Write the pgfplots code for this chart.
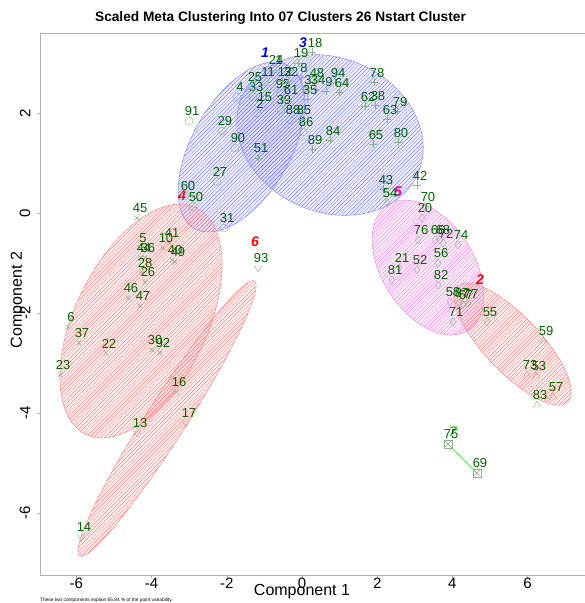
\documentclass[border=0pt]{standalone}
\usepackage{pgfplots}
\pgfplotsset{compat=1.18}
\usepackage{fontspec}
\setmainfont{Liberation Sans}
\usetikzlibrary{patterns}
\definecolor{dkgreen}{RGB}{0,100,0}
\definecolor{mkcol}{RGB}{140,175,140}
\definecolor{lgreen}{RGB}{40,215,40}
\pgfdeclarepatternformonly{hatch}{\pgfqpoint{-1pt}{-1pt}}{\pgfqpoint{4.8pt}{4.8pt}}{\pgfqpoint{3.8pt}{3.8pt}}{%
  \pgfsetlinewidth{0.45pt}%
  \pgfpathmoveto{\pgfqpoint{-0.1pt}{-0.1pt}}%
  \pgfpathlineto{\pgfqpoint{3.9pt}{3.9pt}}%
  \pgfusepath{stroke}}
\newcommand{\myell}[6]{%
  \fill[#6, fill opacity=0.05, rotate around={#5:(axis cs:#1,#2)}] (axis cs:#1,#2) ellipse [x radius=#3pt, y radius=#4pt];
  \draw[draw=#6!45, line width=0.5pt, pattern=hatch, pattern color=#6!50, rotate around={#5:(axis cs:#1,#2)}] (axis cs:#1,#2) ellipse [x radius=#3pt, y radius=#4pt];
}
\pgfplotsset{lbl/.style={only marks, mkcol, point meta=explicit symbolic, nodes near coords,
  nodes near coords style={font=\fontsize{13}{13}\selectfont, text=dkgreen, anchor=center, inner sep=0pt, xshift=3pt, yshift=9.5pt}}}
\begin{document}
\begin{tikzpicture}
\begin{axis}[
  at={(40pt,28pt)}, anchor=south west,
  x=37.6pt, y=50pt,
  xmin=-6.968, xmax=7.7, ymin=-7.24, ymax=3.6,
  axis line style={gray!60, line width=0.6pt},
  xtick={-6,-4,...,6}, ytick={-6,-4,...,2},
  xtick pos=left, ytick pos=left,
  tick align=outside, major tick length=3pt,
  tick style={gray!60, line width=0.6pt},
  /pgf/number format/assume math mode=true,
  ticklabel style={font=\fontsize{15}{15}\selectfont},
  xticklabel style={anchor=north, inner sep=0pt},
  yticklabel style={rotate=90, anchor=south, inner sep=0pt},
  yticklabel shift=6.5pt,
  clip=false,
]
\myell{-1.609}{1.32}{94}{49}{60}{blue}
\myell{0.745}{1.56}{96}{77}{-23.5}{blue}
\myell{-4.282}{-2.16}{126}{66}{64}{red}
\myell{-3.59}{-4.11}{163}{20}{57.5}{red}
\myell{3.351}{-1.09}{74.5}{46}{-57.3}{magenta}
\myell{5.60}{-2.62}{80}{28}{-46.5}{red}

\addplot[lgreen, line width=0.6pt, no markers] table {
x y
3.883 -4.62
4.654 -5.20
};

% cluster 1
\addplot[lbl, mark=o, mark size=4pt] table[meta=lab] {
x y lab
-3.005 1.84 91
-2.128 1.64 29
-1.782 1.30 90
-2.261 0.63 27
-3.112 0.35 60
-2.899 0.13 50
-2.074 -0.30 31
-1.729 2.32 4
-1.303 2.33 33
-1.330 2.53 25
-1.064 2.12 15
-1.197 2.00 2
-0.771 2.87 24
-0.691 2.87 1
-0.984 2.63 11
-0.585 2.39 95
-0.559 2.06 39
-0.319 1.86 88
0.027 1.62 86
};
% cluster 3
\addplot[lbl, mark=+, mark size=4pt] table[meta=lab] {
x y lab
0.266 3.21 18
-0.106 3.00 19
-0.027 2.71 8
-0.532 2.63 12
-0.372 2.63 32
0.319 2.61 48
0.080 2.47 3
0.346 2.47 34
0.638 2.43 9
0.878 2.61 94
0.984 2.41 64
-0.372 2.27 61
0.133 2.27 35
-0.027 1.87 85
0.266 1.27 89
0.745 1.45 84
-1.170 1.10 51
1.915 2.61 78
1.676 2.13 62
1.941 2.15 38
2.527 2.03 79
2.261 1.87 63
1.888 1.37 65
2.553 1.41 80
3.059 0.55 42
2.154 0.47 43
};
% cluster 5
\addplot[lbl, mark=diamond, mark size=4pt] table[meta=lab] {
x y lab
2.261 0.20 54
3.271 0.13 70
3.191 -0.10 20
3.085 -0.54 76
3.537 -0.54 66
3.670 -0.54 68
3.750 -0.60 72
4.149 -0.64 74
3.617 -1.00 56
2.580 -1.09 21
3.059 -1.14 52
2.394 -1.34 81
3.617 -1.44 82
3.936 -1.78 58
4.176 -1.79 87
4.282 -1.83 67
4.415 -1.81 77
4.016 -2.18 71
4.920 -2.18 55
};
% cluster 2
\addplot[lbl, mark=triangle, mark size=4pt] table[meta=lab] {
x y lab
6.410 -2.56 59
5.984 -3.24 73
6.223 -3.26 53
6.676 -3.68 57
6.250 -3.84 83
};
% cluster 7
\addplot[only marks, mkcol, mark=x, mark size=4pt] table {
x y
3.883 -4.62
4.654 -5.20
};
\addplot[lbl, mark=square, mark size=4pt] table[meta=lab] {
x y lab
3.883 -4.62 75
4.654 -5.20 69
};
% cluster 4
\addplot[lbl, mark=x, mark size=3.5pt] table[meta=lab] {
x y lab
-4.388 -0.10 45
-4.309 -0.70 5
-4.282 -0.90 44
-4.176 -0.90 36
-3.537 -0.59 41
-3.697 -0.70 10
-3.457 -0.94 40
-3.378 -0.98 49
-4.255 -1.19 28
-4.176 -1.38 26
-4.628 -1.70 46
-4.309 -1.86 47
-6.223 -2.28 6
-5.931 -2.60 37
-5.213 -2.80 22
-6.436 -3.24 23
-3.989 -2.74 30
-3.777 -2.80 92
-3.351 -3.58 16
};
% cluster 6
\addplot[lbl, mark=triangle, mark size=4pt, mark options={rotate=180}] table[meta=lab] {
x y lab
-4.388 -4.40 13
-3.085 -4.20 17
-5.878 -6.48 14
-1.170 -1.10 93
};

\begin{scope}[every node/.style={font=\bfseries\itshape\fontsize{14}{14}\selectfont}]
\node[text=blue] at (axis cs:-0.984,3.20) {1};
\node[text=blue] at (axis cs:0.027,3.40) {3};
\node[text=red] at (axis cs:-3.19,0.34) {4};
\node[text=red] at (axis cs:-1.25,-0.58) {6};
\node[text=magenta] at (axis cs:2.553,0.42) {5};
\node[text=red] at (axis cs:4.734,-1.34) {2};
\node[text=lgreen] at (axis cs:4.016,-4.38) {7};
\end{scope}
\end{axis}
\node[font=\fontsize{16}{16}\selectfont] at (302pt,11pt) {Component 1};
\node[rotate=90, font=\fontsize{16}{16}\selectfont] at (18pt,303pt) {Component 2};
\node[font=\bfseries\fontsize{13.7}{14}\selectfont] at (280.5pt,585pt) {Scaled Meta Clustering Into 07 Clusters 26 Nstart Cluster};
\node[anchor=west, inner sep=0pt, font=\fontsize{4.8}{5}\selectfont] at (40pt,2.5pt) {These two components explain 65.84 \% of the point variability.};
\pgfresetboundingbox
\path[use as bounding box] (0,0) rectangle (585pt,603pt);
\end{tikzpicture}
\end{document}
